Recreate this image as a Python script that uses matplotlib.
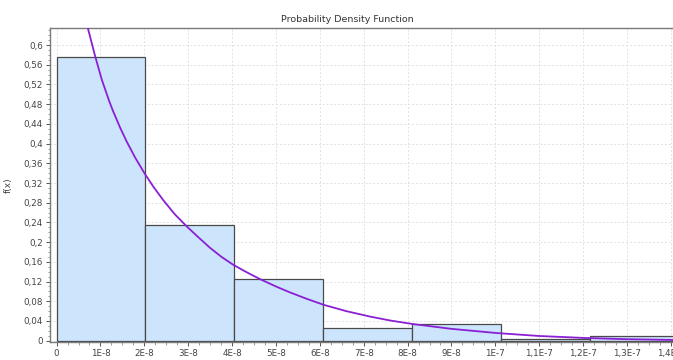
import matplotlib.pyplot as plt
from matplotlib.ticker import MultipleLocator, FuncFormatter
import numpy as np

# histogram bins (x in units of 1E-8) and heights
bin_edges = [0, 2.025, 4.05, 6.075, 8.1, 10.125, 12.15, 14.175]
bin_heights = [0.576, 0.235, 0.125, 0.026, 0.034, 0.003, 0.010]

# fitted density curve
curve_x = [0.6, 0.711, 0.877, 1.03, 1.196, 1.287, 1.45, 1.599, 1.788, 2.016, 2.21, 2.433,
           2.7, 2.966, 3.23, 3.497, 3.76, 4.027, 4.33, 4.636, 5.0, 5.319, 5.7, 6.08,
           6.6, 7.14, 7.6, 8.1, 9.0, 10.03, 11.0, 12.04, 13.0, 14.04]
curve_y = [0.675, 0.635, 0.578, 0.530, 0.487, 0.466, 0.432, 0.404, 0.372, 0.338, 0.312, 0.285,
           0.256, 0.232, 0.210, 0.1885, 0.170, 0.154, 0.139, 0.125, 0.110, 0.098, 0.085, 0.073,
           0.060, 0.049, 0.041, 0.034, 0.024, 0.0155, 0.0095, 0.0055, 0.003, 0.0015]

scale = 1e-8
edges = np.array(bin_edges) * scale
xs = np.array(curve_x) * scale

fig = plt.figure(figsize=(6.73, 3.6), dpi=100)
ax = fig.add_axes([50/673, 17.7/360, 1 - 50/673, (342.3-28.3)/360])

ax.bar(edges[:-1], bin_heights, width=np.diff(edges), align='edge',
       color='#cce5fd', edgecolor='#4a4a4a', linewidth=0.9, zorder=2)
ax.plot(xs, curve_y, color='#8a1fd4', lw=1.3, zorder=3)

ax.set_xlim(-0.15e-8, 14.05e-8)
ax.set_ylim(-0.0033, 0.634)

ax.xaxis.set_major_locator(MultipleLocator(1e-8))
ax.xaxis.set_minor_locator(MultipleLocator(0.25e-8))
ax.yaxis.set_major_locator(MultipleLocator(0.04))
ax.yaxis.set_minor_locator(MultipleLocator(0.01))

def xfmt(v, pos):
    if abs(v) < 1e-12:
        return '0'
    k = round(v / 1e-8)
    if k < 10:
        return '%dE-8' % k
    if k == 10:
        return '1E-7'
    return ('%g' % (k / 10)).replace('.', ',') + 'E-7'

def yfmt(v, pos):
    if abs(v) < 1e-9:
        return '0'
    return ('%g' % round(v, 2)).replace('.', ',')

ax.xaxis.set_major_formatter(FuncFormatter(xfmt))
ax.yaxis.set_major_formatter(FuncFormatter(yfmt))

ax.tick_params(axis='both', which='major', labelsize=6.3, colors='#555555',
               length=3, width=0.7, pad=2, labelcolor='#444444')
ax.tick_params(axis='both', which='minor', length=1.8, width=0.5, colors='#777777')

ax.grid(True, which='major', linestyle=(0, (2, 2)), color='#e2e2e2', lw=0.7, zorder=0)
ax.set_axisbelow(True)

for s in ['left', 'bottom', 'top']:
    ax.spines[s].set_color('#7a7a7a')
    ax.spines[s].set_linewidth(1.0)
ax.spines['right'].set_visible(False)

ax.set_ylabel('f(x)', fontsize=6.5, color='#444444', labelpad=8)
ax.set_xlabel('x', fontsize=6.5, color='#444444', labelpad=3)
fig.text(347/673, 1 - 19/360, 'Probability Density Function', fontsize=6.8,
         color='#333333', ha='center', va='center')

plt.savefig('out.png', dpi=100)
plt.close()
